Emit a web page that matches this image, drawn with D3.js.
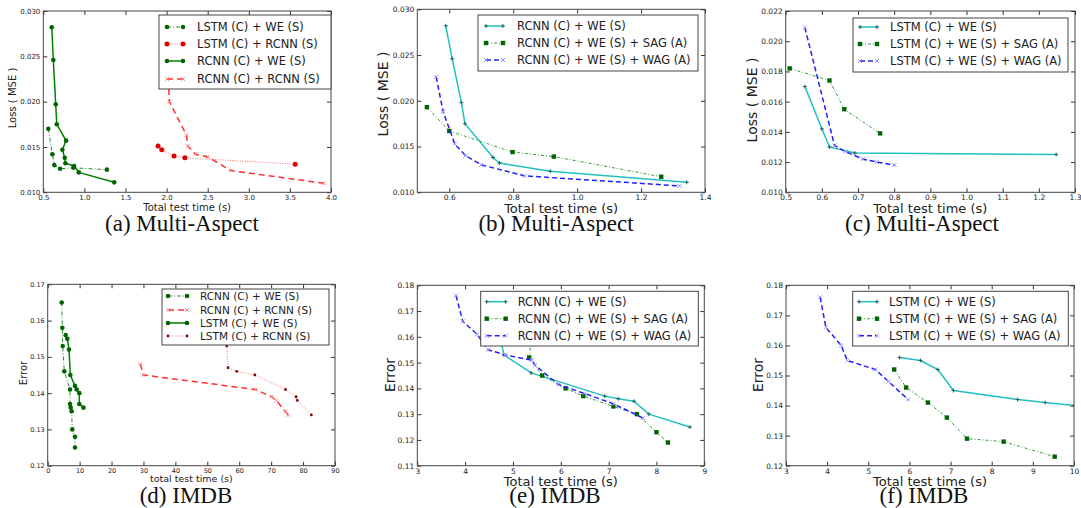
<!DOCTYPE html>
<html>
<head>
<meta charset="utf-8">
<script src="https://cdn.jsdelivr.net/npm/d3@7"></script>
<style>
  body { margin: 0; background: #fff; }
  svg text { font-family: "DejaVu Sans", sans-serif; fill: #222; }
  svg text.caption { font-family: "Liberation Serif", "Times New Roman", serif; fill: #111; }
</style>
</head>
<body>
<div id="container"></div>
<script>
/* DATA */
// (a) Multi-Aspect, [time, loss]
const aLstmWE    = [[0.561,0.0170],[0.610,0.0142],[0.634,0.0130],[0.704,0.0126],[0.866,0.0127],[1.274,0.0125]]
const aLstmRCNN  = [[1.896,0.0151],[1.941,0.0147],[2.091,0.0140],[2.222,0.0138],[3.565,0.0131]]
const aRcnnWE    = [[0.603,0.0282],[0.622,0.0246],[0.651,0.0197],[0.664,0.0175],[0.777,0.0157],[0.732,0.0147],[0.761,0.0138],[0.769,0.0132],[0.875,0.0129],[0.932,0.0122],[1.363,0.0111]]
const aRcnnRCNN  = [[2.02,0.0225],[2.034,0.0200],[2.242,0.0163],[2.258,0.0151],[2.352,0.0142],[2.502,0.0139],[2.78,0.0124],[3.91,0.0110]]
// (b) Multi-Aspect
const bRcnnWE    = [[0.589,0.0282],[0.609,0.0246],[0.638,0.0198],[0.649,0.0175],[0.737,0.0138],[0.757,0.0132],[0.916,0.0123],[1.343,0.0111]]
const bRcnnSAG   = [[0.530,0.0193],[0.600,0.0167],[0.798,0.0144],[0.927,0.0139],[1.263,0.0117]]
const bRcnnWAG   = [[0.559,0.0226],[0.581,0.0188],[0.617,0.0153],[0.651,0.0140],[0.700,0.0130],[0.835,0.0118],[1.320,0.0107]]
// (c) Multi-Aspect
const cLstmWE    = [[0.553,0.0170],[0.600,0.0142],[0.621,0.0130],[0.691,0.0126],[1.248,0.0125]]
const cLstmSAG   = [[0.511,0.0182],[0.621,0.0174],[0.662,0.0155],[0.761,0.0139]]
const cLstmWAG   = [[0.553,0.0209],[0.635,0.0131],[0.665,0.0127],[0.713,0.0122],[0.752,0.0120],[0.801,0.0118]]
// (d) IMDB, [time, error]
const dRcnnWE    = [[4.39,0.165],[4.58,0.158],[4.70,0.153],[5.2,0.146],[6.99,0.141],[7.0,0.137],[7.2,0.136],[7.5,0.135],[7.7,0.130],[8.55,0.128],[8.55,0.125]]
const dRcnnRCNN  = [[29.0,0.148],[30.0,0.145],[65.0,0.141],[70.2,0.139],[71.6,0.138],[74.4,0.135],[75.3,0.134]]
const dLstmWE    = [[5.63,0.156],[6.15,0.155],[6.67,0.152],[7.09,0.145],[8.55,0.142],[9.08,0.141],[9.9,0.140],[9.9,0.137],[11.2,0.136]]
const dLstmRCNN  = [[56.1,0.153],[56.5,0.147],[59.2,0.146],[64.9,0.145],[74.5,0.141],[77.8,0.139],[78.2,0.138],[82.6,0.134]]
// (e) IMDB
const eRcnnWE    = [[4.70,0.163],[4.81,0.153],[5.38,0.146],[6.92,0.137],[7.20,0.136],[7.53,0.135],[7.84,0.130],[8.70,0.125]]
const eRcnnSAG   = [[5.42,0.165],[5.34,0.152],[5.61,0.145],[6.10,0.140],[6.47,0.137],[7.10,0.133],[7.59,0.130],[8.00,0.123],[8.24,0.119]]
const eRcnnWAG   = [[3.81,0.176],[3.95,0.166],[4.25,0.161],[4.48,0.155],[4.83,0.153],[5.39,0.151],[5.46,0.149],[5.95,0.1415],[6.50,0.138],[7.10,0.134],[7.72,0.1285]]
// (f) IMDB
const fLstmWE    = [[5.76,0.156],[6.27,0.155],[6.69,0.152],[7.07,0.145],[8.63,0.142],[9.30,0.141],[10.0,0.140]]
const fLstmSAG   = [[5.63,0.152],[5.92,0.146],[6.45,0.141],[6.91,0.136],[7.40,0.129],[8.29,0.128],[9.53,0.123]]
const fLstmWAG   = [[3.83,0.176],[3.97,0.166],[4.34,0.160],[4.49,0.155],[5.17,0.152],[5.49,0.148],[5.97,0.142]]

/* TICKS */
const aXTicks = [0.5,1.0,1.5,2.0,2.5,3.0,3.5,4.0]
const lossTicks = [0.010,0.015,0.020,0.025,0.030]
const bXTicks = [0.6,0.8,1.0,1.2,1.4]
const cXTicks = [0.5,0.6,0.7,0.8,0.9,1.0,1.1,1.2,1.3]
const cYTicks = [0.010,0.012,0.014,0.016,0.018,0.020,0.022]
const dXTicks = [0,10,20,30,40,50,60,70,80,90]
const dYTicks = [0.12,0.13,0.14,0.15,0.16,0.17]
const eXTicks = [3,4,5,6,7,8,9]
const eYTicks = [0.11,0.12,0.13,0.14,0.15,0.16,0.17,0.18]
const fXTicks = [3,4,5,6,7,8,9,10]
const fYTicks = [0.12,0.13,0.14,0.15,0.16,0.17,0.18]

/* STYLES */
const st = {
  greenDashDot: { stroke: '#2e8b2e', width: 1, dash: '4,2,1,2', marker: 'dot', size: 2.3, mcolor: '#006400' },
  greenSolid:   { stroke: '#008000', width: 1.5, dash: null, marker: 'dot', size: 2.3, mcolor: '#006400' },
  redDotted:    { stroke: '#ff6a6a', width: 1, dash: '1,1.5', marker: 'dot', size: 2.5, mcolor: '#e00000' },
  redDotted2:   { stroke: '#ff7a7a', width: 1, dash: '1,1.5', marker: 'dot', size: 1.4, mcolor: '#800000' },
  redDashed:    { stroke: '#ff3030', width: 1.5, dash: '6,4', marker: 'x', size: 1.8, mcolor: '#ff8080' },
  cyan:         { stroke: '#20c0c0', width: 1.5, dash: null, marker: 'plus', size: 2, mcolor: '#2a6060' },
  sag:          { stroke: '#3a9a3a', width: 1, dash: '3,2,1,2', marker: 'square', size: 2.2, mcolor: '#006400' },
  wag:          { stroke: '#2020ff', width: 1.5, dash: '5,3', marker: 'x', size: 2, mcolor: '#9090ff' }
}

const panels = [
  { box: { l: 43.3, r: 331, t: 11, b: 192.3 }, xDom: [0.5, 4.0], yDom: [0.010, 0.030],
    xTicks: aXTicks, yTicks: lossTicks, xFmt: '.1f', yFmt: '.3f', tickFont: 7,
    xLabel: 'Total test time (s)', xLabelFont: 10, xLabelY: 211,
    yLabel: 'Loss ( MSE )', yLabelFont: 10, yLabelX: 12, yLabelY: 98,
    caption: '(a) Multi-Aspect', capX: 182, capY: 231,
    series: [
      { name: 'LSTM (C) + WE (S)', data: aLstmWE, s: st.greenDashDot },
      { name: 'LSTM (C) + RCNN (S)', data: aLstmRCNN, s: st.redDotted },
      { name: 'RCNN (C) + WE (S)', data: aRcnnWE, s: st.greenSolid },
      { name: 'RCNN (C) + RCNN (S)', data: aRcnnRCNN, s: st.redDashed }
    ],
    legend: { x0: 159, x1: 331, y0: 15, y1: 89, lx0: 167, lx1: 183, tx: 197, rows: [27, 44, 61, 79], font: 11.5 } },
  { box: { l: 417.3, r: 705, t: 9.3, b: 192.3 }, xDom: [0.5, 1.4], yDom: [0.010, 0.030],
    xTicks: bXTicks, yTicks: lossTicks, xFmt: '.1f', yFmt: '.3f', tickFont: 7.5,
    xLabel: 'Total test time (s)', xLabelFont: 13, xLabelY: 213,
    yLabel: 'Loss ( MSE )', yLabelFont: 14, yLabelX: 383, yLabelY: 94,
    caption: '(b) Multi-Aspect', capX: 556, capY: 231,
    series: [
      { name: 'RCNN (C) + WE (S)', data: bRcnnWE, s: st.cyan },
      { name: 'RCNN (C) + WE (S) + SAG (A)', data: bRcnnSAG, s: st.sag },
      { name: 'RCNN (C) + WE (S) + WAG (A)', data: bRcnnWAG, s: st.wag }
    ],
    legend: { x0: 478, x1: 698, y0: 15, y1: 71, lx0: 486, lx1: 503, tx: 517, rows: [26, 43, 60], font: 11.5 } },
  { box: { l: 785.7, r: 1075, t: 11, b: 192.3 }, xDom: [0.5, 1.3], yDom: [0.010, 0.022],
    xTicks: cXTicks, yTicks: cYTicks, xFmt: '.1f', yFmt: '.3f', tickFont: 7.5,
    xLabel: 'Total test time (s)', xLabelFont: 13, xLabelY: 213,
    yLabel: 'Loss ( MSE )', yLabelFont: 14, yLabelX: 752, yLabelY: 100,
    caption: '(c) Multi-Aspect', capX: 922, capY: 231,
    series: [
      { name: 'LSTM (C) + WE (S)', data: cLstmWE, s: st.cyan },
      { name: 'LSTM (C) + WE (S) + SAG (A)', data: cLstmSAG, s: st.sag },
      { name: 'LSTM (C) + WE (S) + WAG (A)', data: cLstmWAG, s: st.wag }
    ],
    legend: { x0: 853, x1: 1068, y0: 18, y1: 72, lx0: 860, lx1: 877, tx: 890, rows: [27, 44, 61], font: 11.5 } },
  { box: { l: 47.7, r: 335, t: 284.3, b: 465.7 }, xDom: [0, 90], yDom: [0.12, 0.17],
    xTicks: dXTicks, yTicks: dYTicks, xFmt: 'd', yFmt: '.2f', tickFont: 6.5,
    xLabel: 'total test time (s)', xLabelFont: 9.5, xLabelY: 482,
    yLabel: 'Error', yLabelFont: 10, yLabelX: 23, yLabelY: 373,
    caption: '(d) IMDB', capX: 186, capY: 503,
    series: [
      { name: 'RCNN (C) + WE (S)', data: dRcnnWE, s: st.greenDashDot },
      { name: 'RCNN (C) + RCNN (S)', data: dRcnnRCNN, s: st.redDashed },
      { name: 'LSTM (C) + WE (S)', data: dLstmWE, s: st.greenSolid },
      { name: 'LSTM (C) + RCNN (S)', data: dLstmRCNN, s: st.redDotted2 }
    ],
    legend: { x0: 162, x1: 329, y0: 289, y1: 345, lx0: 168, lx1: 187, tx: 200, rows: [296, 310, 323, 336], font: 10.5 } },
  { box: { l: 417.3, r: 704.3, t: 285.3, b: 465.7 }, xDom: [3, 9], yDom: [0.11, 0.18],
    xTicks: eXTicks, yTicks: eYTicks, xFmt: 'd', yFmt: '.2f', tickFont: 7.5,
    xLabel: 'Total test time (s)', xLabelFont: 13, xLabelY: 486,
    yLabel: 'Error', yLabelFont: 14, yLabelX: 390, yLabelY: 375,
    caption: '(e) IMDB', capX: 555, capY: 503,
    series: [
      { name: 'RCNN (C) + WE (S)', data: eRcnnWE, s: st.cyan },
      { name: 'RCNN (C) + WE (S) + SAG (A)', data: eRcnnSAG, s: st.sag },
      { name: 'RCNN (C) + WE (S) + WAG (A)', data: eRcnnWAG, s: st.wag }
    ],
    legend: { x0: 480.7, x1: 698.3, y0: 291.3, y1: 346, lx0: 486.7, lx1: 505.7, tx: 517.7, rows: [301.7, 318.7, 335.7], font: 11.5 } },
  { box: { l: 786, r: 1074, t: 285.3, b: 465.7 }, xDom: [3, 10], yDom: [0.12, 0.18],
    xTicks: fXTicks, yTicks: fYTicks, xFmt: 'd', yFmt: '.2f', tickFont: 7.5,
    xLabel: 'Total test time (s)', xLabelFont: 13, xLabelY: 486,
    yLabel: 'Error', yLabelFont: 14, yLabelX: 758, yLabelY: 375,
    caption: '(f) IMDB', capX: 924, capY: 503,
    series: [
      { name: 'LSTM (C) + WE (S)', data: fLstmWE, s: st.cyan },
      { name: 'LSTM (C) + WE (S) + SAG (A)', data: fLstmSAG, s: st.sag },
      { name: 'LSTM (C) + WE (S) + WAG (A)', data: fLstmWAG, s: st.wag }
    ],
    legend: { x0: 852.7, x1: 1068.3, y0: 291.3, y1: 346, lx0: 859, lx1: 877, tx: 889, rows: [301.7, 318.7, 335.7], font: 11.5 } }
]

const svg = d3.select('#container')
  .append('svg')
  .attr('width', 1081)
  .attr('height', 508)

svg.append('rect').attr('width', 1081).attr('height', 508).attr('fill', '#fff')

function drawMarker(g, s, cx, cy) {
  const r = s.size
  if (s.marker === 'dot') {
    g.append('circle').attr('cx', cx).attr('cy', cy).attr('r', r).attr('fill', s.mcolor)
  } else if (s.marker === 'square') {
    g.append('rect').attr('x', cx - r).attr('y', cy - r).attr('width', 2 * r).attr('height', 2 * r).attr('fill', s.mcolor)
  } else if (s.marker === 'x') {
    g.append('path').attr('d', `M${cx - r},${cy - r}L${cx + r},${cy + r}M${cx - r},${cy + r}L${cx + r},${cy - r}`)
      .attr('stroke', s.mcolor).attr('stroke-width', 1).attr('fill', 'none')
  } else if (s.marker === 'plus') {
    g.append('path').attr('d', `M${cx - r},${cy}L${cx + r},${cy}M${cx},${cy - r}L${cx},${cy + r}`)
      .attr('stroke', s.mcolor).attr('stroke-width', 1).attr('fill', 'none')
  }
}

panels.forEach((p, i) => {
  const x = d3.scaleLinear().domain(p.xDom).range([p.box.l, p.box.r])
  const y = d3.scaleLinear().domain(p.yDom).range([p.box.b, p.box.t])
  const g = svg.append('g')

  g.append('clipPath').attr('id', 'clip' + i)
    .append('rect').attr('x', p.box.l).attr('y', p.box.t)
    .attr('width', p.box.r - p.box.l).attr('height', p.box.b - p.box.t)

  // axes, matplotlib style: inward ticks on all four sides
  const styleAxis = sel => {
    sel.select('.domain').remove()
    sel.attr('font-family', '"DejaVu Sans", sans-serif').attr('font-size', p.tickFont)
    sel.selectAll('line').attr('stroke', '#333')
    sel.selectAll('text').attr('fill', '#222')
  }
  g.append('g').attr('transform', `translate(0,${p.box.b})`)
    .call(d3.axisBottom(x).tickValues(p.xTicks).tickFormat(d3.format(p.xFmt)).tickSizeInner(-4).tickSizeOuter(0).tickPadding(2.5))
    .call(styleAxis)
  g.append('g').attr('transform', `translate(0,${p.box.t})`)
    .call(d3.axisTop(x).tickValues(p.xTicks).tickFormat('').tickSizeInner(-4).tickSizeOuter(0))
    .call(styleAxis)
  g.append('g').attr('transform', `translate(${p.box.l},0)`)
    .call(d3.axisLeft(y).tickValues(p.yTicks).tickFormat(d3.format(p.yFmt)).tickSizeInner(-4).tickSizeOuter(0).tickPadding(3))
    .call(styleAxis)
  g.append('g').attr('transform', `translate(${p.box.r},0)`)
    .call(d3.axisRight(y).tickValues(p.yTicks).tickFormat('').tickSizeInner(-4).tickSizeOuter(0))
    .call(styleAxis)

  // series
  const plot = g.append('g').attr('clip-path', `url(#clip${i})`)
  const line = d3.line().x(d => x(d[0])).y(d => y(d[1]))
  p.series.forEach(se => {
    plot.append('path').datum(se.data)
      .attr('d', line)
      .attr('fill', 'none')
      .attr('stroke', se.s.stroke)
      .attr('stroke-width', se.s.width)
      .attr('stroke-dasharray', se.s.dash)
    se.data.forEach(d => drawMarker(plot, se.s, x(d[0]), y(d[1])))
  })

  // frame
  g.append('rect').attr('x', p.box.l).attr('y', p.box.t)
    .attr('width', p.box.r - p.box.l).attr('height', p.box.b - p.box.t)
    .attr('fill', 'none').attr('stroke', '#444').attr('stroke-width', 1)

  // legend
  const L = p.legend
  const lg = g.append('g')
  lg.append('rect').attr('x', L.x0).attr('y', L.y0)
    .attr('width', L.x1 - L.x0).attr('height', L.y1 - L.y0)
    .attr('fill', '#fff').attr('stroke', '#444').attr('stroke-width', 1)
  p.series.forEach((se, k) => {
    const yy = L.rows[k]
    lg.append('line').attr('x1', L.lx0).attr('x2', L.lx1).attr('y1', yy).attr('y2', yy)
      .attr('stroke', se.s.stroke).attr('stroke-width', se.s.width).attr('stroke-dasharray', se.s.dash)
    drawMarker(lg, se.s, L.lx0, yy)
    drawMarker(lg, se.s, L.lx1, yy)
    lg.append('text').attr('x', L.tx).attr('y', yy).attr('dy', '0.36em')
      .attr('font-size', L.font).text(se.name)
  })

  // labels
  g.append('text').attr('x', (p.box.l + p.box.r) / 2).attr('y', p.xLabelY)
    .attr('text-anchor', 'middle').attr('font-size', p.xLabelFont).text(p.xLabel)
  g.append('text').attr('transform', `translate(${p.yLabelX},${p.yLabelY}) rotate(-90)`)
    .attr('dy', '0.36em').attr('text-anchor', 'middle').attr('font-size', p.yLabelFont).text(p.yLabel)
  g.append('text').attr('class', 'caption').attr('x', p.capX).attr('y', p.capY)
    .attr('text-anchor', 'middle').attr('font-size', 23).text(p.caption)
})
</script>
</body>
</html>
